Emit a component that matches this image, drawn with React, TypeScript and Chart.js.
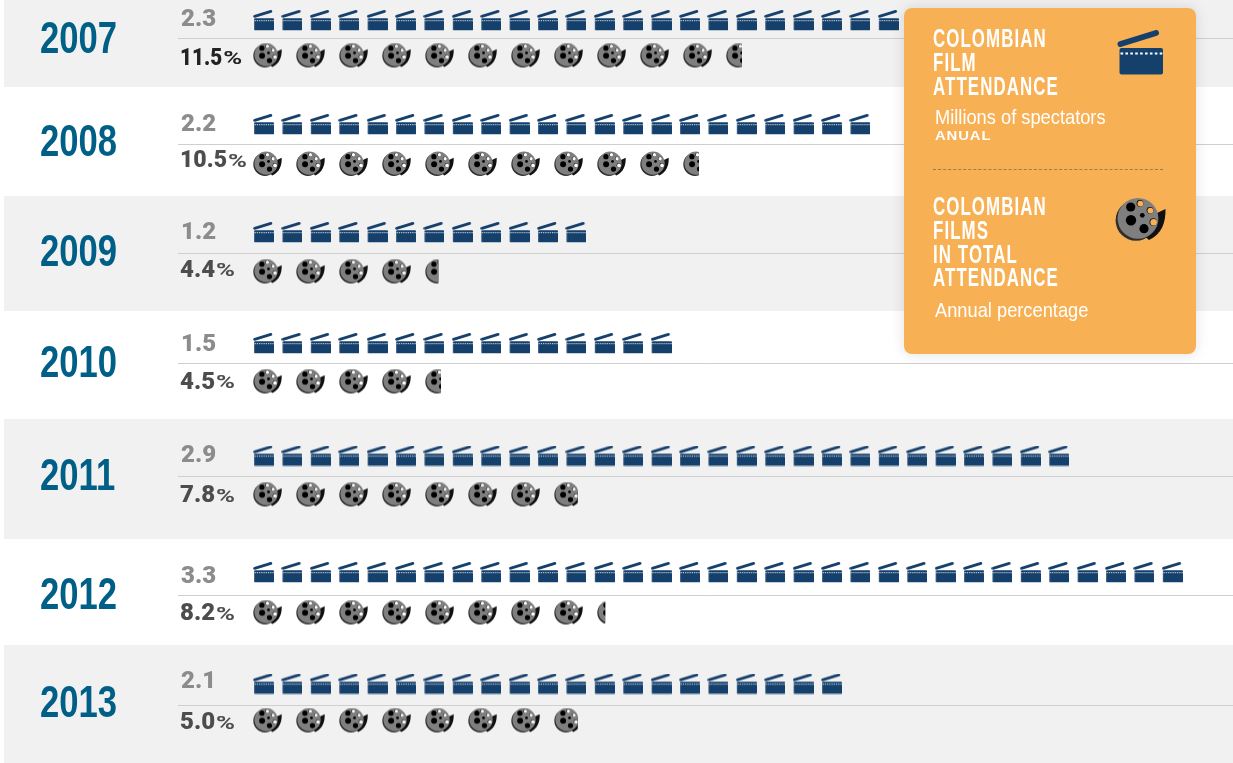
import React, { useEffect, useRef } from "react";
import { Chart, registerables } from "chart.js";

Chart.register(...registerables);

// ---- data ----
const years = ["2007", "2008", "2009", "2010", "2011", "2012", "2013"];
const attendanceMillions = [2.3, 2.2, 1.2, 1.5, 2.9, 3.3, 2.1];
const sharePercent = [11.5, 10.5, 4.4, 4.5, 7.8, 8.2, 5.0];
// how many reels each row actually shows (the 2013 row shows more reels than its label says)
const reelsShown = [11.5, 10.5, 4.4, 4.5, 7.8, 8.2, 7.8];

// ---- layout, in y-scale units ----
const bandEdges = [[0, 87], [196, 311], [419, 539], [645, 763]];
const ruleY = [38, 144, 253, 363, 476, 595, 705];
const clapY = [20.5, 124.5, 232.5, 343.5, 456, 572.5, 684];
const reelY = [55.5, 164, 271.5, 381.5, 494.5, 612.5, 720.5];
const yearY = [41, 143.5, 253.5, 364.5, 477.5, 596.5, 704.5];
const clapLabelY = [19.5, 124.5, 233, 345, 456, 577, 682];
const shareLabelY = [58.5, 161, 270.5, 382.5, 496, 614, 723];
const shareColors = ["#222222", "#4d4d4d", "#4d4d4d", "#4d4d4d", "#4d4d4d", "#4d4d4d", "#4d4d4d"];
const shareSquash = [0.86, 0.96, 1, 1, 1, 1, 1];

const NAVY = "#16406c";
const CLAP_W = 21;
const REEL_W = 29;
const REEL_H = 26;

function drawClap(c: CanvasRenderingContext2D, s: number) {
  c.save();
  c.scale(s, s);
  c.fillStyle = NAVY;
  c.beginPath();
  c.roundRect(2.5, 18, 43.5, 26.5, 2);
  c.fill();
  c.strokeStyle = NAVY;
  c.lineWidth = 6;
  c.lineCap = "round";
  c.beginPath();
  c.moveTo(3.5, 14);
  c.lineTo(39, 3);
  c.stroke();
  c.fillStyle = "#ffffff";
  for (let i = 0; i < 9; i++) c.fillRect(3.5 + i * 4.9, 22.5, 2.6, 2);
  c.restore();
}

function drawReel(c: CanvasRenderingContext2D, s: number) {
  c.save();
  c.scale(s, s);
  // tail
  c.fillStyle = "#111111";
  c.beginPath();
  c.moveTo(42, 16);
  c.lineTo(50.5, 12);
  c.bezierCurveTo(50.8, 25, 47, 37, 34, 43);
  c.lineTo(28, 38);
  c.closePath();
  c.fill();
  // shadow
  c.fillStyle = "#2e2e2e";
  c.beginPath();
  c.arc(21, 23.4, 20.4, 0, Math.PI * 2);
  c.fill();
  // disc
  c.fillStyle = "#7f7f7f";
  c.beginPath();
  c.arc(23, 21.4, 20.4, 0, Math.PI * 2);
  c.fill();
  // black holes
  c.fillStyle = "#000000";
  for (const [x, y, r] of [[15.7, 10, 4.6], [16, 23.3, 5.2], [29, 31.7, 4.6], [27.3, 18.3, 2.4]]) {
    c.beginPath();
    c.arc(x, y, r, 0, Math.PI * 2);
    c.fill();
  }
  // see-through holes
  c.fillStyle = "#111111";
  for (const [x, y, r] of [[25, 6.3, 3.4], [35, 13.3, 3.4], [38.3, 25, 3.8]]) {
    c.beginPath();
    c.arc(x, y, r, 0, Math.PI * 2);
    c.fill();
    c.globalCompositeOperation = "destination-out";
    c.beginPath();
    c.arc(x + 0.4, y + 0.3, r - 0.5, 0, Math.PI * 2);
    c.fill();
    c.globalCompositeOperation = "source-over";
  }
  c.restore();
}

function makeClapSprite() {
  const cv = document.createElement("canvas");
  cv.width = CLAP_W;
  cv.height = CLAP_W;
  drawClap(cv.getContext("2d")!, CLAP_W / 46);
  return cv;
}

function makeReelSprite(fraction: number) {
  const cv = document.createElement("canvas");
  cv.width = REEL_W;
  cv.height = REEL_H;
  const c = cv.getContext("2d")!;
  if (fraction < 1) {
    c.beginPath();
    c.rect(0, 0, 3 + 26 * fraction, REEL_H);
    c.clip();
  }
  drawReel(c, REEL_W / 51);
  return cv;
}

const SANS = '"Liberation Sans", sans-serif';
const WIDE = 'Roboto, "Liberation Sans", sans-serif';

const backdrop = {
  id: "backdrop",
  beforeDraw(chart: any) {
    const { ctx, scales } = chart;
    ctx.save();
    ctx.fillStyle = "#f1f1f1";
    for (const [a, b] of bandEdges) {
      const top = scales.y.getPixelForValue(a);
      ctx.fillRect(4, top, 1229, scales.y.getPixelForValue(b) - top);
    }
    ctx.restore();
  },
};

const rowText = {
  id: "rowText",
  afterDatasetsDraw(chart: any) {
    const { ctx, scales } = chart;
    ctx.save();
    ctx.textBaseline = "middle";
    ctx.textAlign = "left";
    years.forEach((year, i) => {
      ctx.save();
      ctx.translate(40, scales.y.getPixelForValue(yearY[i]));
      ctx.scale(0.77, 1);
      ctx.fillStyle = "#005f86";
      ctx.font = `bold 45px ${SANS}`;
      ctx.fillText(year, 0, 0);
      ctx.restore();

      ctx.fillStyle = "#8c8c8c";
      ctx.font = `900 24px ${WIDE}`;
      ctx.fillText(attendanceMillions[i].toFixed(1), 181, scales.y.getPixelForValue(clapLabelY[i]));

      ctx.fillStyle = shareColors[i];
      ctx.font = `900 24px ${WIDE}`;
      const num = sharePercent[i].toFixed(1);
      const y = scales.y.getPixelForValue(shareLabelY[i]);
      const w = ctx.measureText(num).width * shareSquash[i];
      ctx.save();
      ctx.translate(180, y);
      ctx.scale(shareSquash[i], 1);
      ctx.fillText(num, 0, 0);
      ctx.restore();
      ctx.save();
      ctx.translate(180 + w + 1, y + 1);
      ctx.scale(1.35, 1);
      ctx.font = `700 19px ${WIDE}`;
      ctx.fillText("%", 0, 0);
      ctx.restore();
    });
    ctx.restore();
  },
};

function Sprite({ kind, left, top, width, height }: any) {
  const ref = useRef<HTMLCanvasElement>(null);
  useEffect(() => {
    const c = ref.current!.getContext("2d")!;
    c.clearRect(0, 0, width, height);
    if (kind === "clap") drawClap(c, width / 46);
    else drawReel(c, width / 51);
  }, [kind, width, height]);
  return <canvas ref={ref} width={width} height={height} style={{ position: "absolute", left, top }} />;
}

const headStyle: React.CSSProperties = {
  position: "absolute",
  left: 29,
  color: "#fff",
  font: `bold 25px/23.8px ${SANS}`,
  letterSpacing: "1.6px",
  whiteSpace: "nowrap",
  transform: "scaleX(0.675)",
  transformOrigin: "left top",
};
const subStyle: React.CSSProperties = {
  position: "absolute",
  left: 31,
  color: "#fff",
  font: `21px/24px ${SANS}`,
  whiteSpace: "nowrap",
  transform: "scaleX(0.87)",
  transformOrigin: "left top",
};

export default function App() {
  const ref = useRef<HTMLCanvasElement>(null);

  useEffect(() => {
    const clapSprite = makeClapSprite();
    const clapPoints = (i: number) =>
      Array.from({ length: Math.round(attendanceMillions[i] * 10) }, (_, k) => ({
        x: 0.037 + k * 0.1,
        y: clapY[i],
      }));
    const reelPoints = (i: number) =>
      Array.from({ length: Math.ceil(reelsShown[i]) }, (_, k) => ({ x: 0.337 + k, y: reelY[i] }));
    const reelStyles = (i: number) =>
      Array.from({ length: Math.ceil(reelsShown[i]) }, (_, k) =>
        makeReelSprite(Math.min(1, reelsShown[i] - k))
      );

    const datasets: any[] = [];
    years.forEach((year, i) => {
      datasets.push({
        label: `${year} attendance (millions)`,
        xAxisID: "xClap",
        data: clapPoints(i),
        pointStyle: clapSprite,
        pointRadius: 11,
        showLine: false,
      });
      datasets.push({
        label: `${year} Colombian share (%)`,
        xAxisID: "xReel",
        data: reelPoints(i),
        pointStyle: reelStyles(i),
        pointRadius: 14,
        showLine: false,
      });
    });

    const chart = new Chart(ref.current!, {
      type: "scatter",
      data: { datasets },
      options: {
        animation: false,
        responsive: false,
        devicePixelRatio: 1,
        layout: { autoPadding: false, padding: { left: 178, right: 0, top: 0, bottom: 0 } },
        events: [],
        plugins: { legend: { display: false }, tooltip: { enabled: false } },
        scales: {
          xClap: { type: "linear", display: false, min: -75 / 284, max: (1055 - 75) / 284 },
          xReel: { type: "linear", display: false, min: -75 / 43, max: (1055 - 75) / 43 },
          y: {
            type: "linear",
            reverse: true,
            min: 0,
            max: 763,
            border: { display: false },
            ticks: { display: false },
            grid: { color: "#cfcfcf", lineWidth: 1, drawTicks: false },
            afterBuildTicks: (axis: any) => {
              axis.ticks = ruleY.map((value) => ({ value }));
            },
          },
        },
      },
      plugins: [backdrop, rowText],
    } as any);
    return () => chart.destroy();
  }, []);

  return (
    <div style={{ position: "absolute", left: 0, top: 0, width: 1233, height: 763, overflow: "hidden", background: "#fff" }}>
      <canvas ref={ref} width={1233} height={763} style={{ display: "block" }} />
      <div
        style={{
          position: "absolute",
          left: 904,
          top: 8,
          width: 292,
          height: 346,
          background: "#f8b054",
          borderRadius: 8,
          boxShadow: "0 0 14px rgba(0,0,0,0.12)",
        }}
      >
        <div style={{ ...headStyle, top: 19 }}>
          COLOMBIAN<br />FILM<br />ATTENDANCE
        </div>
        <div style={{ ...subStyle, top: 97 }}>Millions of spectators</div>
        <div style={{ position: "absolute", left: 31, top: 120, color: "#fff", font: `bold 13.5px/16px ${SANS}`, letterSpacing: "0.8px", transform: "scaleX(1.1)", transformOrigin: "left top" }}>
          ANUAL
        </div>
        <div style={{ position: "absolute", left: 29, top: 161, width: 230, borderTop: "1px dashed #9b7f52" }} />
        <div style={{ ...headStyle, top: 187 }}>
          COLOMBIAN<br />FILMS<br />IN TOTAL<br />ATTENDANCE
        </div>
        <div style={{ ...subStyle, top: 290 }}>Annual percentage</div>
        <Sprite kind="clap" left={213} top={22} width={46} height={46} />
        <Sprite kind="reel" left={211} top={189} width={51} height={46} />
      </div>
    </div>
  );
}
